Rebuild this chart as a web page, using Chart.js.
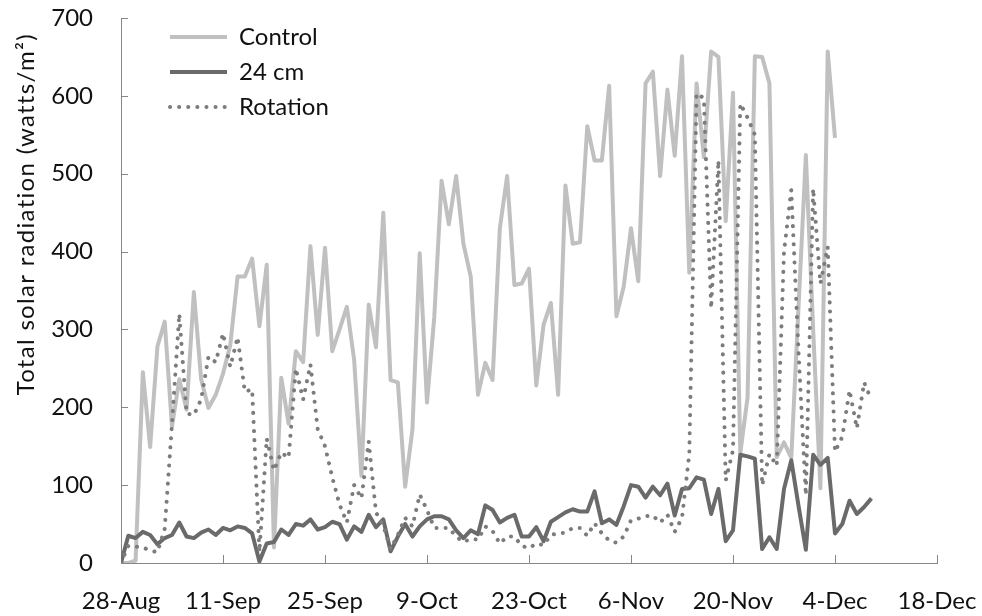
<!DOCTYPE html>
<html>
<head>
<meta charset="utf-8">
<script src="https://cdn.jsdelivr.net/npm/chart.js@4.4.0/dist/chart.umd.min.js"></script>
<style>
html,body{margin:0;padding:0;background:#ffffff;}
#wrap{width:982px;height:616px;}
</style>
</head>
<body>
<div id="wrap"><canvas id="c" width="982" height="616"></canvas></div>
<script>
// x-axis tick labels (every 14 days starting 28-Aug)
const xTickLabels = ['28-Aug','11-Sep','25-Sep','9-Oct','23-Oct','6-Nov','20-Nov','4-Dec','18-Dec'];
const yTicks = [0,100,200,300,400,500,600,700];
const seriesNames = ['Control','24 cm','Rotation'];
const yTitle = 'Total solar radiation (watts/m\u00B2)';

// daily values, day 0 = 28-Aug
const control = [0,0,3,245,149,278,310,175,236,197,
348,236,199,216,243,280,368,368,391,304,
383,20,238,179,272,258,407,293,405,272,
300,329,261,112,332,277,450,235,232,98,
171,398,206,316,491,435,497,410,368,216,
257,235,430,497,357,359,378,228,306,334,
216,485,410,412,561,517,517,613,317,355,
430,362,616,631,497,608,523,651,373,616,
521,657,650,439,604,141,213,651,650,616,
136,155,135,330,524,300,96,657,546];

const cm24 = [0,35,32,40,36,24,32,36,52,34,
32,39,43,36,45,42,47,45,38,2,
25,27,43,36,50,48,56,43,46,53,
50,30,47,40,62,46,56,15,34,50,
34,47,56,60,60,56,42,32,42,37,
74,68,52,58,62,34,34,46,28,53,
59,65,69,66,66,92,51,56,49,73,
100,98,84,98,87,102,61,95,96,110,
107,63,95,28,42,139,137,134,18,33,
18,95,132,73,17,139,126,135,38,50,
80,63,72,83];

const rotation = [0,22,21,20,16,14,44,179,320,192,
190,210,265,258,295,252,290,220,223,14,
160,119,142,135,250,210,255,172,150,110,
75,52,100,83,156,65,48,18,36,58,
47,88,68,45,45,45,34,27,31,30,
47,41,25,34,34,22,19,25,23,36,
38,39,45,45,35,51,38,29,26,34,
55,57,60,61,52,62,40,58,140,603,
597,327,517,106,145,590,572,550,100,140,
125,400,479,270,87,481,359,406,143,162,
222,173,232,209];

const toPoints = arr => arr.map((v, i) => ({x: i, y: v}));

Chart.defaults.font.family = 'Lato';
Chart.defaults.color = '#111111';

const axisColor = '#868686';

const innerTicks = {
  id: 'innerTicks',
  beforeDatasetsDraw(chart) {
    const {ctx, scales: {x, y}} = chart;
    ctx.save();
    ctx.strokeStyle = axisColor;
    ctx.lineWidth = 1;
    ctx.beginPath();
    x.ticks.forEach(t => {
      const px = Math.round(x.getPixelForValue(t.value)) + 0.5;
      ctx.moveTo(px, y.bottom);
      ctx.lineTo(px, y.bottom - 8);
    });
    y.ticks.forEach(t => {
      const py = Math.round(y.getPixelForValue(t.value)) + 0.5;
      ctx.moveTo(x.left, py);
      ctx.lineTo(x.left + 7, py);
    });
    ctx.stroke();
    ctx.restore();
  }
};

const placeLegend = {
  id: 'placeLegend',
  afterLayout(chart) {
    const lg = chart.legend;
    if (!lg) return;
    lg.left = 159; lg.top = 14;
    lg.width = 260; lg.height = 150;
    lg.right = lg.left + lg.width; lg.bottom = lg.top + lg.height;
  }
};

const shiftTitle = {
  id: 'shiftTitle',
  beforeDraw(chart) {
    const s = chart.scales.y;
    if (s && !s._shifted) {
      const orig = s.drawTitle;
      s.drawTitle = function () {
        const ctx = this.ctx;
        ctx.save();
        ctx.translate(0, 15);
        try { ctx.letterSpacing = '1.3px'; } catch (e) {}
        orig.apply(this, arguments);
        ctx.restore();
      };
      s._shifted = true;
    }
  }
};

new Chart(document.getElementById('c'), {
  type: 'line',
  data: {
    datasets: [
      {label: seriesNames[0], data: toPoints(control), borderColor: '#c0c0c0', backgroundColor: '#c0c0c0',
       borderWidth: 4, pointRadius: 0, tension: 0, borderJoinStyle: 'round', order: 3},
      {label: seriesNames[1], data: toPoints(cm24), borderColor: '#6a6a6a', backgroundColor: '#6a6a6a',
       borderWidth: 4, pointRadius: 0, tension: 0, borderJoinStyle: 'round', order: 2},
      {label: seriesNames[2], data: toPoints(rotation), borderColor: '#7c7c7c', backgroundColor: '#7c7c7c',
       borderWidth: 4, borderDash: [0.1, 9], borderCapStyle: 'round', pointRadius: 0, tension: 0, order: 1}
    ]
  },
  options: {
    responsive: false,
    animation: false,
    devicePixelRatio: 1,
    layout: {padding: {top: 18, right: 45, bottom: 0, left: 0}},
    plugins: {
      tooltip: {enabled: false},
      legend: {
        position: 'chartArea',
        align: 'start',
        labels: {
          usePointStyle: true,
          pointStyle: 'line',
          pointStyleWidth: 57,
          boxHeight: 24,
          padding: 11,
          color: '#111111',
          font: {size: 24},
          generateLabels: (chart) => chart.data.datasets.map((ds, i) => ({
            text: ds.label,
            fillStyle: ds.borderColor,
            strokeStyle: ds.borderColor,
            fontColor: '#111111',
            lineWidth: ds.borderWidth,
            lineDash: ds.borderDash || [],
            lineCap: ds.borderCapStyle || 'butt',
            lineJoin: 'round',
            pointStyle: 'line',
            hidden: false,
            datasetIndex: i
          }))
        }
      }
    },
    scales: {
      x: {
        type: 'linear',
        min: 0, max: 112,
        afterBuildTicks: (s) => { s.ticks = xTickLabels.map((_, i) => ({value: i * 14})); },
        afterFit: (s) => { s.height = 53; s.paddingLeft = 0; s.paddingRight = 0; },
        ticks: {
          autoSkip: false, maxRotation: 0, padding: 24,
          font: {size: 24}, color: '#111111',
          callback: (v) => xTickLabels[Math.round(v / 14)]
        },
        grid: {display: false, drawTicks: false},
        border: {display: true, color: axisColor, width: 1}
      },
      y: {
        min: 0, max: 700,
        afterBuildTicks: (s) => { s.ticks = yTicks.map(v => ({value: v})); },
        afterFit: (s) => { s.width = 121; s.paddingTop = 0; s.paddingBottom = 0; },
        ticks: {padding: 28, font: {size: 24}, color: '#111111'},
        grid: {display: false, drawTicks: false},
        border: {display: true, color: axisColor, width: 1},
        title: {display: true, text: yTitle, align: 'end', color: '#111111', font: {size: 24}, padding: {top: 12, bottom: 0}}
      }
    }
  },
  plugins: [innerTicks, placeLegend, shiftTitle]
});
</script>
</body>
</html>
